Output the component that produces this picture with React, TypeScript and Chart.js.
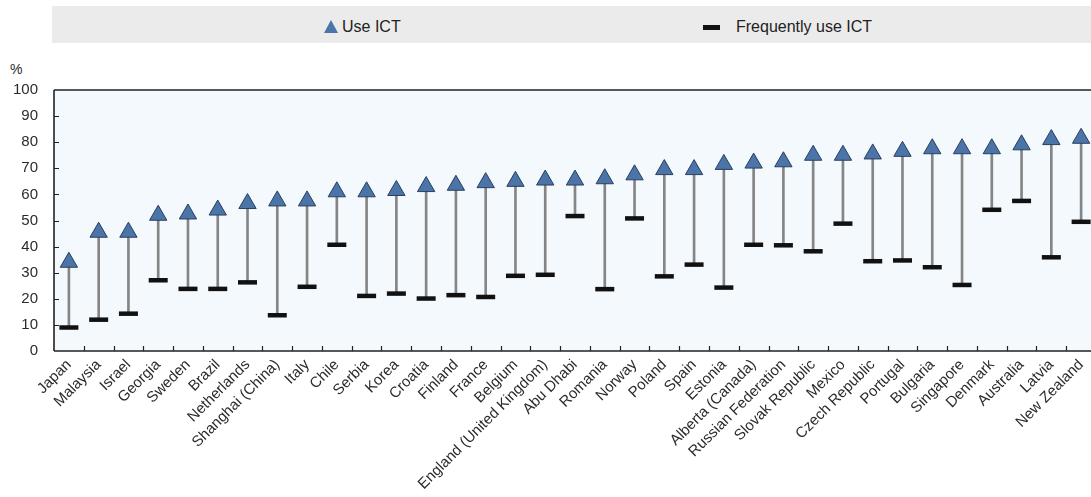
import React, { useEffect, useRef } from "react";
import { Chart, registerables } from "chart.js";

Chart.register(...registerables);

const countries = [
  "Japan", "Malaysia", "Israel", "Georgia", "Sweden", "Brazil", "Netherlands",
  "Shanghai (China)", "Italy", "Chile", "Serbia", "Korea", "Croatia", "Finland",
  "France", "Belgium", "England (United Kingdom)", "Abu Dhabi", "Romania", "Norway",
  "Poland", "Spain", "Estonia", "Alberta (Canada)", "Russian Federation",
  "Slovak Republic", "Mexico", "Czech Republic", "Portugal", "Bulgaria",
  "Singapore", "Denmark", "Australia", "Latvia", "New Zealand",
];

const useICT = [
  34, 45.5, 45.5, 52, 52.5, 54, 56.5, 57.5, 57.5, 61, 61, 61.5, 63, 63.5, 64.5,
  65, 65.5, 65.5, 66, 67.5, 69.5, 69.5, 71.5, 72, 72.5, 75, 75, 75.5, 76.5, 77.5,
  77.5, 77.5, 79, 81, 81.5,
];

const frequentlyUseICT = [
  9, 12, 14.3, 27.1, 23.8, 23.8, 26.3, 13.7, 24.6, 40.7, 21.1, 22.0, 20.1, 21.4,
  20.7, 28.8, 29.2, 51.7, 23.7, 50.8, 28.6, 33.1, 24.3, 40.7, 40.5, 38.2, 48.8,
  34.4, 34.7, 32.1, 25.3, 54.1, 57.5, 35.9, 49.5,
];

const yTicks = [0, 10, 20, 30, 40, 50, 60, 70, 80, 90, 100];

const FONT = "'Liberation Sans', Arial, sans-serif";

const framePlugin = {
  id: "frame",
  beforeDatasetsDraw(chart: any) {
    const { ctx, chartArea: a } = chart;
    ctx.save();
    ctx.fillStyle = "#f3f9fc";
    ctx.fillRect(a.left, a.top, a.right - a.left, a.bottom - a.top);
    ctx.restore();
  },
  afterDraw(chart: any) {
    const { ctx, chartArea: a, scales } = chart;
    const x = scales.x;
    const y = scales.y;
    ctx.save();
    ctx.strokeStyle = "#222";
    ctx.lineWidth = 1.6;
    ctx.beginPath();
    ctx.moveTo(a.left, a.top);
    ctx.lineTo(a.right, a.top);
    ctx.moveTo(a.left, a.top);
    ctx.lineTo(a.left, a.bottom);
    ctx.moveTo(a.left, a.bottom);
    ctx.lineTo(a.right, a.bottom);
    ctx.stroke();
    ctx.lineWidth = 1.2;
    ctx.beginPath();
    for (let i = 1; i < countries.length; i++) {
      const px = Math.round((x.getPixelForValue(i - 1) + x.getPixelForValue(i)) / 2) + 0.5;
      ctx.moveTo(px, a.bottom);
      ctx.lineTo(px, a.bottom - 5);
    }
    for (const v of yTicks) {
      if (v === 0 || v === 100) continue;
      const py = Math.round(y.getPixelForValue(v)) + 0.5;
      ctx.moveTo(a.left, py);
      ctx.lineTo(a.left + 5, py);
    }
    ctx.stroke();
    ctx.restore();
  },
};

export default function App() {
  const ref = useRef<HTMLCanvasElement | null>(null);

  useEffect(() => {
    if (!ref.current) return;
    const chart = new Chart(ref.current, {
      type: "bar",
      data: {
        labels: countries,
        datasets: [
          {
            type: "bar",
            label: "range",
            data: countries.map((_, i) => [frequentlyUseICT[i], useICT[i]]) as any,
            backgroundColor: "#858585",
            barThickness: 2,
            order: 3,
          },
          {
            type: "line",
            label: "Frequently use ICT",
            data: frequentlyUseICT,
            showLine: false,
            pointStyle: "line",
            pointRadius: 9.5,
            pointHoverRadius: 9.5,
            pointBorderWidth: 4.5,
            borderColor: "#111",
            backgroundColor: "#111",
            order: 2,
          },
          {
            type: "line",
            label: "Use ICT",
            data: useICT,
            showLine: false,
            pointStyle: "triangle",
            pointRadius: 10,
            pointHoverRadius: 10,
            pointBorderWidth: 1,
            pointBackgroundColor: "#4b74a9",
            pointBorderColor: "#2a3f5e",
            borderColor: "#2a3f5e",
            order: 1,
          },
        ],
      },
      options: {
        animation: false,
        responsive: false,
        maintainAspectRatio: false,
        layout: { padding: { top: 90, right: 12, left: 0, bottom: 0 } },
        plugins: {
          legend: { display: false },
          tooltip: { enabled: false },
        },
        scales: {
          x: {
            offset: true,
            grid: { display: false, drawTicks: false },
            border: { display: false },
            ticks: {
              autoSkip: false,
              maxRotation: 45,
              minRotation: 45,
              padding: 5,
              color: "#2b2b2b",
              font: { family: FONT, size: 15 },
            },
            afterFit(scale: any) {
              scale.height = 146;
            },
          },
          y: {
            min: 0,
            max: 100,
            grid: { display: false, drawTicks: false },
            border: { display: false },
            ticks: {
              stepSize: 10,
              padding: 16,
              color: "#2b2b2b",
              font: { family: FONT, size: 15 },
            },
            afterFit(scale: any) {
              scale.width = 54;
            },
          },
        },
      },
      plugins: [framePlugin],
    });
    return () => chart.destroy();
  }, []);

  return (
    <div
      style={{
        position: "fixed",
        left: 0,
        top: 0,
        width: 1091,
        height: 497,
        overflow: "hidden",
        background: "#fff",
        fontFamily: FONT,
      }}
    >
      <div
        style={{
          position: "absolute",
          left: 52,
          top: 6,
          width: 1060,
          height: 37,
          background: "#ebebeb",
        }}
      />
      <div
        style={{
          position: "absolute",
          left: 324,
          top: 20,
          width: 0,
          height: 0,
          borderLeft: "7.5px solid transparent",
          borderRight: "7.5px solid transparent",
          borderBottom: "13px solid #4b74a9",
        }}
      />
      <div
        style={{
          position: "absolute",
          left: 342,
          top: 17,
          fontSize: 16,
          lineHeight: "20px",
          color: "#222",
          whiteSpace: "nowrap",
        }}
      >
        Use ICT
      </div>
      <div
        style={{
          position: "absolute",
          left: 703,
          top: 25,
          width: 17,
          height: 5,
          background: "#111",
        }}
      />
      <div
        style={{
          position: "absolute",
          left: 736,
          top: 17,
          fontSize: 16,
          lineHeight: "20px",
          color: "#222",
          whiteSpace: "nowrap",
        }}
      >
        Frequently use ICT
      </div>
      <div
        style={{
          position: "absolute",
          left: 10,
          top: 61,
          fontSize: 14,
          lineHeight: "16px",
          color: "#2b2b2b",
        }}
      >
        %
      </div>
      <canvas
        ref={ref}
        width={1110}
        height={497}
        style={{ position: "absolute", left: 0, top: 0, width: 1110, height: 497 }}
      />
    </div>
  );
}
